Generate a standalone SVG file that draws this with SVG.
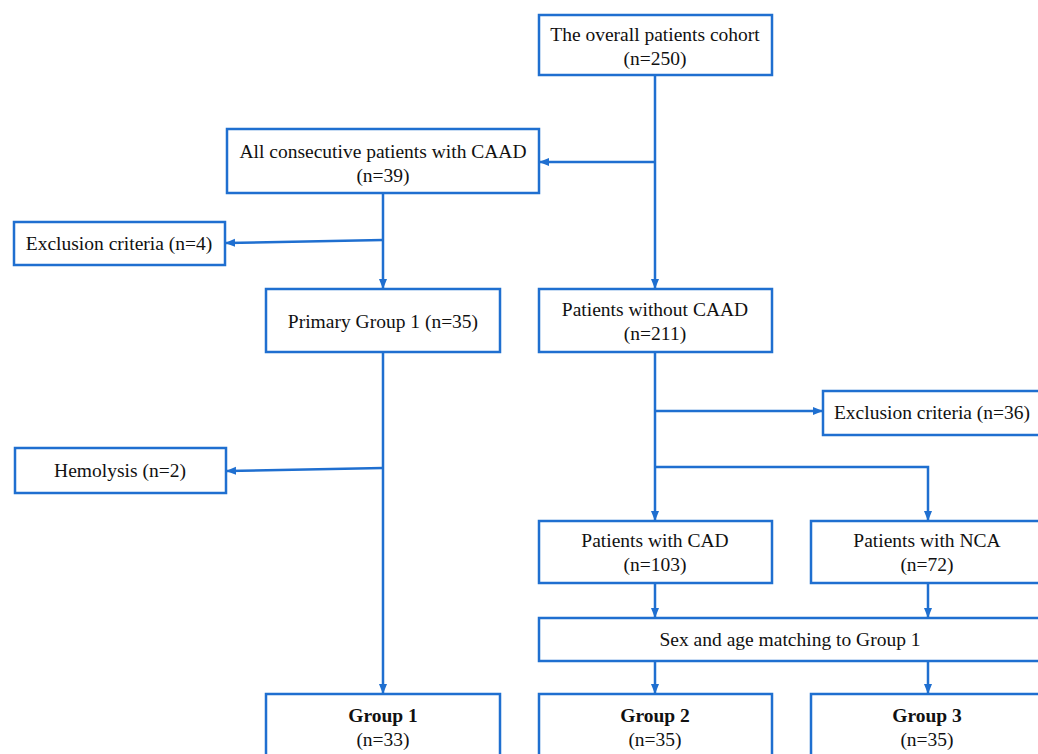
<svg xmlns="http://www.w3.org/2000/svg" width="1038" height="754" viewBox="0 0 1038 754">
<defs>
<marker id="ah" markerWidth="10" markerHeight="10" refX="9" refY="5" orient="auto" markerUnits="userSpaceOnUse">
<path d="M0,1 L10,5 L0,9 Z" fill="#1f6fd0"/>
</marker>
<style>
.box{fill:#fff;stroke:#1f6fd0;stroke-width:2.5}
.t{font-family:'Liberation Serif','Times New Roman','DejaVu Serif',serif;font-size:19.5px;fill:#111;text-anchor:middle}
.b{font-weight:bold}
.c{fill:none;stroke:#1f6fd0;stroke-width:2.5}
</style>
</defs>
<rect width="1038" height="754" fill="#fff"/>
<g id="connectors">
<path class="c" d="M655,75 V288" marker-end="url(#ah)"/>
<path class="c" d="M655,162 H540" marker-end="url(#ah)"/>
<path class="c" d="M383,193 V288" marker-end="url(#ah)"/>
<path class="c" d="M383,240 L226,243" marker-end="url(#ah)"/>
<path class="c" d="M383,352 V693" marker-end="url(#ah)"/>
<path class="c" d="M383,468 L227,471" marker-end="url(#ah)"/>
<path class="c" d="M655,352 V520" marker-end="url(#ah)"/>
<path class="c" d="M655,411 H822" marker-end="url(#ah)"/>
<path class="c" d="M655,467 H928 V520" marker-end="url(#ah)"/>
<path class="c" d="M655,583 V617" marker-end="url(#ah)"/>
<path class="c" d="M928,583 V617" marker-end="url(#ah)"/>
<path class="c" d="M655,661 V693" marker-end="url(#ah)"/>
<path class="c" d="M928,661 V693" marker-end="url(#ah)"/>
</g>
<g id="cohort">
<rect class="box" x="539" y="15" width="233" height="60"/>
<text class="t" x="655" y="41">The overall patients cohort</text>
<text class="t" x="655" y="65">(n=250)</text>
</g>
<g id="caad">
<rect class="box" x="227" y="129" width="312" height="64"/>
<text class="t" x="383" y="158">All consecutive patients with CAAD</text>
<text class="t" x="383" y="182">(n=39)</text>
</g>
<g id="excl4">
<rect class="box" x="14" y="222" width="211" height="43"/>
<text class="t" x="119" y="250">Exclusion criteria (n=4)</text>
</g>
<g id="primary">
<rect class="box" x="266" y="289" width="234" height="63"/>
<text class="t" x="383" y="328">Primary Group 1 (n=35)</text>
</g>
<g id="nocaad">
<rect class="box" x="539" y="289" width="233" height="63"/>
<text class="t" x="655" y="316">Patients without CAAD</text>
<text class="t" x="655" y="340">(n=211)</text>
</g>
<g id="excl36">
<rect class="box" x="823" y="391" width="220" height="44"/>
<text class="t" x="932" y="419">Exclusion criteria (n=36)</text>
</g>
<g id="hemolysis">
<rect class="box" x="15" y="448" width="211" height="45"/>
<text class="t" x="120" y="477">Hemolysis (n=2)</text>
</g>
<g id="cad">
<rect class="box" x="539" y="521" width="233" height="62"/>
<text class="t" x="655" y="547">Patients with CAD</text>
<text class="t" x="655" y="571">(n=103)</text>
</g>
<g id="nca">
<rect class="box" x="811" y="521" width="240" height="62"/>
<text class="t" x="927" y="547">Patients with NCA</text>
<text class="t" x="927" y="571">(n=72)</text>
</g>
<g id="matching">
<rect class="box" x="539" y="618" width="510" height="43"/>
<text class="t" x="790" y="646">Sex and age matching to Group 1</text>
</g>
<g id="group1">
<rect class="box" x="266" y="694" width="234" height="70"/>
<text class="t b" x="383" y="722">Group 1</text>
<text class="t" x="383" y="746">(n=33)</text>
</g>
<g id="group2">
<rect class="box" x="539" y="694" width="233" height="70"/>
<text class="t b" x="655" y="722">Group 2</text>
<text class="t" x="655" y="746">(n=35)</text>
</g>
<g id="group3">
<rect class="box" x="811" y="694" width="240" height="70"/>
<text class="t b" x="927" y="722">Group 3</text>
<text class="t" x="927" y="746">(n=35)</text>
</g>
</svg>
